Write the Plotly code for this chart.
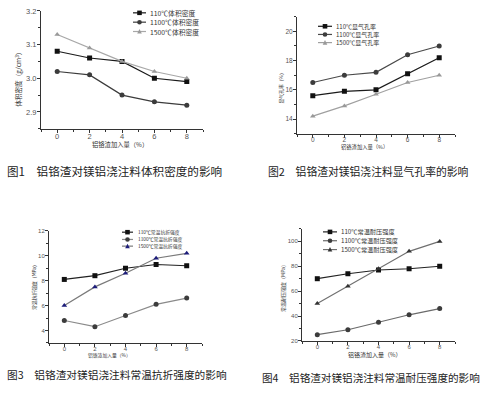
import plotly.graph_objects as go

W, H = 498, 395

x_add = [0, 2, 4, 6, 8]

# Fig 1: bulk density (g/cm3)
dens_110 = [3.08, 3.06, 3.05, 3.00, 2.99]
dens_1100 = [3.02, 3.01, 2.95, 2.93, 2.92]
dens_1500 = [3.13, 3.09, 3.05, 3.02, 3.00]

# Fig 2: apparent porosity (%)
por_110 = [15.6, 15.9, 16.0, 17.1, 18.2]
por_1100 = [16.5, 17.0, 17.2, 18.4, 19.0]
por_1500 = [14.2, 14.9, 15.7, 16.5, 17.0]

# Fig 3: cold modulus of rupture (MPa)
mor_110 = [8.1, 8.4, 9.0, 9.3, 9.2]
mor_1100 = [4.8, 4.3, 5.2, 6.1, 6.6]
mor_1500 = [6.0, 7.5, 8.6, 9.8, 10.2]

# Fig 4: cold crushing strength (MPa)
ccs_110 = [70, 74, 77, 78, 80]
ccs_1100 = [25, 29, 35, 41, 46]
ccs_1500 = [50, 64, 78, 92, 100]

legend1 = ["110℃体积密度", "1100℃体积密度", "1500℃体积密度"]
legend2 = ["110℃显气孔率", "1100℃显气孔率", "1500℃显气孔率"]
legend3 = ["110℃常温抗折强度", "1100℃常温抗折强度", "1500℃常温抗折强度"]
legend4 = ["110℃常温耐压强度", "1100℃常温耐压强度", "1500℃常温耐压强度"]

ytitles = ["体积密度（g/cm<sup>3</sup>）", "显气孔率（%）", "常温抗折强度（MPa）", "常温耐压强度（MPa）"]
xtitle = "铝铬渣加入量（%）"
captions = ["图1　铝铬渣对镁铝浇注料体积密度的影响",
            "图2　铝铬渣对镁铝浇注料显气孔率的影响",
            "图3　铝铬渣对镁铝浇注料常温抗折强度的影响",
            "图4　铝铬渣对镁铝浇注料常温耐压强度的影响"]

yticks = [[2.9, 3.0, 3.1, 3.2], [14, 16, 18, 20], [4, 6, 8, 10, 12], [20, 40, 60, 80, 100]]
yticktext = [["2.9", "3.0", "3.1", "3.2"], ["14", "16", "18", "20"],
             ["4", "6", "8", "10", "12"], ["20", "40", "60", "80", "100"]]
yranges = [[2.85, 3.2], [13, 21], [3, 12], [20, 110]]
yminor = [0.05, 1, 1, 10]

FONT = "Liberation Sans, Arial, Noto Sans CJK SC"
CJK = "Noto Sans CJK SC, Liberation Sans"

def px(x):
    return x / W

def py(y):
    return 1 - y / H

# panel boxes in pixels: (left, right, top, bottom)
boxes = [(41, 203, 7, 127), (297, 455, 13, 132), (49, 202, 231, 345), (302, 455, 229, 343)]

panels = [
    (dens_110, dens_1100, dens_1500, legend1),
    (por_110, por_1100, por_1500, legend2),
    (mor_110, mor_1100, mor_1500, legend3),
    (ccs_110, ccs_1100, ccs_1500, legend4),
]

# styles per panel: (line color, marker color) for 110, 1100, 1500
styles = [
    [("#1a1a1a", "#111111"), ("#3c3c3c", "#3c3c3c"), ("#a8a8a8", "#9a9a9a")],
    [("#1a1a1a", "#111111"), ("#4a4a4a", "#3c3c3c"), ("#a0a0a0", "#999999")],
    [("#222222", "#111111"), ("#8a8a8a", "#3c3c3c"), ("#7a7a7a", "#1c1c7a")],
    [("#222222", "#111111"), ("#6a6a6a", "#3c3c3c"), ("#707070", "#333333")],
]
symbols = ["square", "circle", "triangle-up"]
msizes = [5, 5, 5]
tickfs = [7.5, 6.5, 6, 6]

fig = go.Figure()
shapes = []
annotations = []

legend_pos = [
    # sym x0, sym x1, text x, rows, font
    (133, 146, 148, [9, 18.5, 28], 6.8),
    (318, 332, 334, [22.7, 31, 39.3], 6),
    (122, 133, 136, [232.3, 239.7, 246.5], 4.8),
    (323, 337, 339, [232, 241, 250], 6.2),
]
ytitle_pos = [(18, 75, 6.6), (281, 85, 4.8), (34, 287, 4.8), (283, 288, 5)]
xtitle_pos = [(120, 143.5, 6.3), (364, 146, 5.3), (109, 357, 4.8), (375, 357, 6)]
caption_pos = [(5, 170, 11.6), (266, 170, 10.8), (5, 377, 10.7), (260, 380, 10.6)]

for i, (s110, s1100, s1500, leg) in enumerate(panels):
    n = "" if i == 0 else str(i + 1)
    l, r, t, b = boxes[i]
    for j, (vals, name) in enumerate(zip([s110, s1100, s1500], leg)):
        lc, mc = styles[i][j]
        fig.add_trace(go.Scatter(
            x=x_add, y=vals, name=name, mode="lines+markers",
            xaxis="x" + n, yaxis="y" + n, showlegend=False,
            line=dict(color=lc, width=1.2),
            marker=dict(symbol=symbols[j], size=msizes[j], color=mc),
        ))
    axcommon = dict(showline=True, linecolor="#333333", linewidth=1, showgrid=False,
                    zeroline=False, ticks="outside", ticklen=3, tickcolor="#333333",
                    tickfont=dict(family=FONT, size=tickfs[i], color="#555555"),
                    fixedrange=True)
    fig.layout["xaxis" + n] = dict(
        domain=[px(l), px(r)], anchor="y" + n, range=[-1, 9],
        tickvals=x_add, ticktext=[str(v) for v in x_add], ticklabelstandoff=-3,
        minor=dict(dtick=1, ticks="outside", ticklen=2, tickcolor="#333333"),
        **axcommon)
    fig.layout["yaxis" + n] = dict(
        domain=[py(b), py(t)], anchor="x" + n, range=yranges[i],
        tickvals=yticks[i], ticktext=yticktext[i], ticklabelstandoff=-1,
        minor=dict(dtick=yminor[i], ticks="outside", ticklen=2, tickcolor="#333333"),
        **axcommon)

    # legend drawn with shapes + text
    sx0, sx1, tx, rows, fs = legend_pos[i]
    for j in range(3):
        lc, mc = styles[i][j]
        yy = rows[j]
        shapes.append(dict(type="line", xref="paper", yref="paper",
                           x0=px(sx0), x1=px(sx1), y0=py(yy), y1=py(yy),
                           line=dict(color=lc, width=1.2)))
        cx = (sx0 + sx1) / 2
        m = 2.3
        if j == 0:
            shapes.append(dict(type="rect", xref="paper", yref="paper",
                               x0=px(cx - m), x1=px(cx + m), y0=py(yy + m), y1=py(yy - m),
                               fillcolor=mc, line=dict(width=0)))
        elif j == 1:
            shapes.append(dict(type="circle", xref="paper", yref="paper",
                               x0=px(cx - m), x1=px(cx + m), y0=py(yy + m), y1=py(yy - m),
                               fillcolor=mc, line=dict(width=0)))
        else:
            path = "M {} {} L {} {} L {} {} Z".format(
                px(cx - m), py(yy + m * 0.9), px(cx + m), py(yy + m * 0.9), px(cx), py(yy - m * 1.1))
            shapes.append(dict(type="path", xref="paper", yref="paper", path=path,
                               fillcolor=mc, line=dict(width=0)))
        annotations.append(dict(text=leg[j], xref="paper", yref="paper",
                                x=px(tx), y=py(yy), xanchor="left", yanchor="middle",
                                showarrow=False, font=dict(family=CJK, size=fs, color="#333333")))

    ytx, yty, yfs = ytitle_pos[i]
    annotations.append(dict(text=ytitles[i], xref="paper", yref="paper",
                            x=px(ytx), y=py(yty), xanchor="center", yanchor="middle",
                            textangle=-90, showarrow=False,
                            font=dict(family=CJK, size=yfs, color="#333333")))
    xtx, xty, xfs = xtitle_pos[i]
    annotations.append(dict(text=xtitle, xref="paper", yref="paper",
                            x=px(xtx), y=py(xty), xanchor="center", yanchor="middle",
                            showarrow=False, font=dict(family=CJK, size=xfs, color="#333333")))
    cx_, cy_, cfs = caption_pos[i]
    annotations.append(dict(text=captions[i], xref="paper", yref="paper",
                            x=px(cx_), y=py(cy_), xanchor="left", yanchor="middle",
                            showarrow=False, font=dict(family=CJK, size=cfs, color="#222222")))

fig.update_layout(
    width=W, height=H, margin=dict(l=0, r=0, t=0, b=0),
    paper_bgcolor="white", plot_bgcolor="white",
    shapes=shapes, annotations=annotations, showlegend=False,
)

fig.write_html("out.html", config={"displayModeBar": False})

# remove default page margin so the figure sits at the window origin
with open("out.html", "r", encoding="utf-8") as f:
    html = f.read()
html = html.replace("<head>", "<head><style>html,body{margin:0;padding:0;overflow:hidden;}</style>", 1)
with open("out.html", "w", encoding="utf-8") as f:
    f.write(html)
